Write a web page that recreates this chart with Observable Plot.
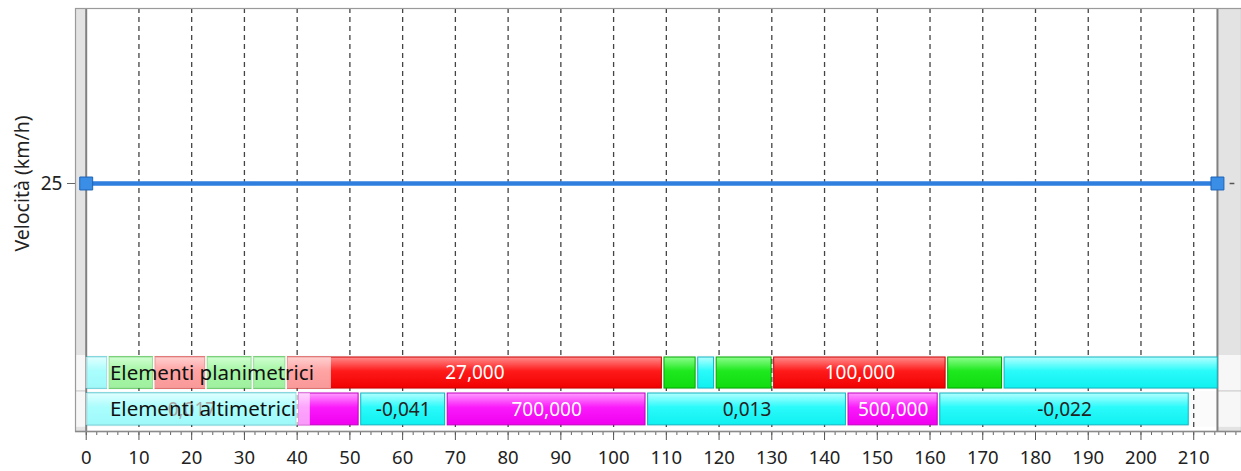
<!DOCTYPE html>
<html><head><meta charset="utf-8">
<script src="https://cdn.jsdelivr.net/npm/d3@7"></script>
<script src="https://cdn.jsdelivr.net/npm/@observablehq/plot@0.6"></script>
<style>body{margin:0;background:#fff;} svg{display:block}</style>
</head><body><div id="chart"></div>
<script>
// ---- data ----
const xTicks = [0,10,20,30,40,50,60,70,80,90,100,110,120,130,140,150,160,170,180,190,200,210];
const xMinorTicks = d3.range(0, 219, 2);
const yTicks = [25];
const speedX = [0, 214.5];
const speedY = [25, 25];
const yLabel = "Velocità (km/h)";
const rowNames = ["Elementi planimetrici", "Elementi altimetrici"];

const planStart = [0, 4.2, 12.9, 22.8, 31.6, 38, 109.4, 115.8, 119.3, 130.2, 163.2, 173.9];
const planEnd   = [4.2, 12.9, 22.8, 31.6, 38, 109.4, 115.8, 119.3, 130.2, 163.2, 173.9, 214.8];
const planType  = ["cyan","green","red","green","green","red","green","cyan","green","red","green","cyan"];
const planLabel = ["","","","","","27,000","","","","100,000","",""];

const altStart = [0, 40.1, 51.9, 68.3, 106.3, 144.3, 161.7];
const altEnd   = [40.1, 51.9, 68.3, 106.3, 144.3, 161.7, 209.3];
const altType  = ["cyan","magenta","cyan","magenta","cyan","magenta","cyan"];
const altLabel = ["0,017","","-0,041","700,000","0,013","500,000","-0,022"];

// ---- build ----
const X0 = -2.03, X1 = 219.06, XEND = 214.5;
const rows = [{y1: 4.33, y2: 7.46}, {y1: 0.62, y2: 3.83}];
const rowBg = [{y1: 4.13, y2: 7.66}, {y1: 0.42, y2: 4.03}];
const segs = [];
planStart.forEach((s, i) => segs.push({x1: s, x2: planEnd[i], t: planType[i], label: planLabel[i], row: 0}));
altStart.forEach((s, i) => segs.push({x1: s, x2: altEnd[i], t: altType[i], label: altLabel[i], row: 1}));
segs.forEach(d => { d.y1 = rows[d.row].y1; d.y2 = rows[d.row].y2; d.xm = (d.x1 + d.x2) / 2; d.ym = (d.y1 + d.y2) / 2; });
const speed = speedX.map((x, i) => ({x, y: speedY[i]}));

const pal = {
  red:     {top: "#ff8c8c", mid: "#ff1a1a", bot: "#f00000", stroke: "#c80000", text: "white"},
  green:   {top: "#8cff8c", mid: "#1ee81e", bot: "#10dc10", stroke: "#00a800", text: "black"},
  cyan:    {top: "#b4ffff", mid: "#2afafa", bot: "#10f0f0", stroke: "#10b4c0", text: "#222"},
  magenta: {top: "#ff9cff", mid: "#fa1afa", bot: "#f000f0", stroke: "#c000c0", text: "white"}
};

const defsMark = () => {
  const g = d3.create("svg:g");
  const defs = g.append("defs");
  for (const [k, c] of Object.entries(pal)) {
    const lg = defs.append("linearGradient").attr("id", "grad-" + k)
      .attr("x1", 0).attr("y1", 0).attr("x2", 0).attr("y2", 1);
    lg.append("stop").attr("offset", "0%").attr("stop-color", c.top);
    lg.append("stop").attr("offset", "45%").attr("stop-color", c.mid);
    lg.append("stop").attr("offset", "100%").attr("stop-color", c.bot);
  }
  return g.node();
};

const segMarks = Object.keys(pal).map(k => Plot.rectX(segs.filter(d => d.t === k), {
  x1: "x1", x2: "x2", y1: "y1", y2: "y2",
  fill: `url(#grad-${k})`, stroke: pal[k].stroke, strokeWidth: 1,
  insetLeft: 1.3, insetRight: 1.3
}));

const labelMarks = Object.keys(pal).map(k => Plot.text(segs.filter(d => d.t === k && d.label), {
  x: "xm", y: "ym", text: "label", fill: pal[k].text, fontSize: 19
}));

const chart = Plot.plot({
  width: 1241, height: 471,
  marginLeft: 75, marginRight: 0, marginTop: 8, marginBottom: 40,
  style: {fontFamily: "'Noto Sans', sans-serif", fontSize: "18px", color: "#222", background: "#fff"},
  x: {domain: [X0, X1], label: null},
  y: {domain: [0, 42.64], label: null},
  marks: [
    defsMark,
    // gray side bands
    Plot.rectX([{a: X0, b: 0}, {a: XEND, b: X1}], {x1: "a", x2: "b", y1: 0, y2: 42.64, fill: "#e3e3e3"}),
    // strip row backgrounds
    Plot.rectX(rowBg, {x1: X0, x2: X1, y1: "y1", y2: "y2", fill: "#fafafa", fillOpacity: 0.85}),
    Plot.ruleY([4.08], {x1: X0, x2: 0, stroke: "#cfcfcf"}),
    Plot.ruleY([4.08], {x1: XEND, x2: X1, stroke: "#cfcfcf"}),
    // dashed gridlines
    Plot.ruleX(xTicks.filter(d => d > 0), {stroke: "#444", strokeWidth: 1.3, strokeDasharray: "5,4"}),
    // boundary lines
    Plot.ruleX([0, XEND], {stroke: "#808080", strokeWidth: 2}),
    Plot.frame({stroke: "#9a9a9a", strokeWidth: 1.2}),
    // speed line
    Plot.line(speed, {x: "x", y: "y", stroke: "#2f7fdf", strokeWidth: 4.5}),
    Plot.dot(speed, {x: "x", y: "y", symbol: "square", r: 7.3, fill: "#3a8ee6", stroke: "#1d64b8", strokeWidth: 1}),
    Plot.ruleY([25], {x1: 216.9, x2: 217.8, stroke: "#555", strokeWidth: 1.5}),
    // strips
    ...segMarks,
    ...labelMarks,
    // label overlays
    Plot.rectX([{x2: 46.5, row: 0}, {x2: 42.5, row: 1}], {
      x1: 0, x2: "x2", y1: d => rows[d.row].y1, y2: d => rows[d.row].y2,
      fill: "white", fillOpacity: 0.6
    }),
    Plot.text(rowNames, {
      x: 4.5, y: (d, i) => (rows[i].y1 + rows[i].y2) / 2, text: d => d,
      textAnchor: "start", fill: "#111", fontSize: 20.5
    }),
    // axes
    Plot.axisX({ticks: xMinorTicks, tickSize: 4, tickFormat: () => "", stroke: "#666"}),
    Plot.axisX({ticks: xTicks, tickSize: 9, tickPadding: 10, stroke: "#555", fontSize: 18.5}),
    Plot.ruleY([0], {x1: X0, x2: X1, stroke: "#8a8a8a", strokeWidth: 1.5}),
    Plot.axisY({ticks: yTicks, tickSize: 8, tickPadding: 5, stroke: "#666", fontSize: 19}),
    Plot.text([yLabel], {x: X0, y: 25, dx: -53, text: d => d, rotate: -90, fontSize: 19.5, fill: "#222"})
  ]
});
document.getElementById("chart").appendChild(chart);
</script>
</body></html>
